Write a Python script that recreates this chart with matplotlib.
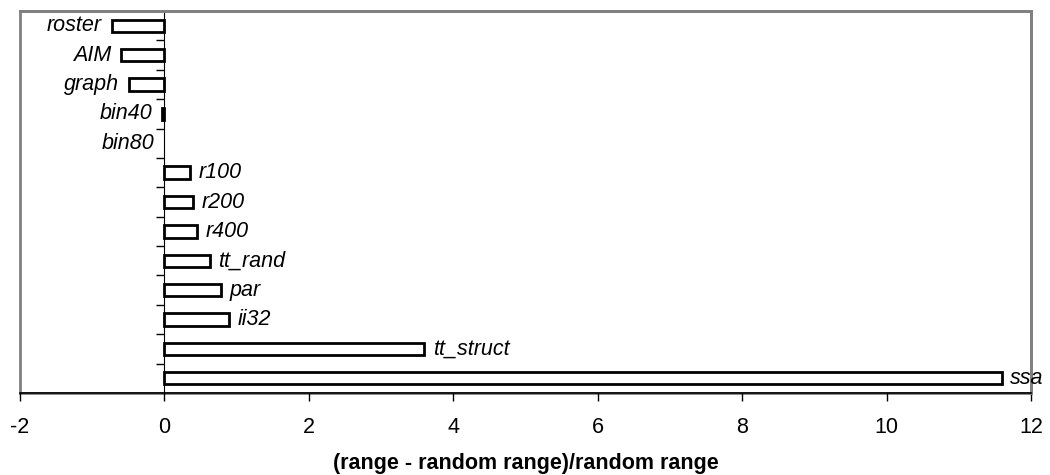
import numpy as np
import matplotlib
matplotlib.use("Agg")
import matplotlib.pyplot as plt
from matplotlib.patches import Rectangle

plt.rcParams['font.family'] = ['Liberation Sans', 'DejaVu Sans']

# Benchmarks, top to bottom
names = ["roster", "AIM", "graph", "bin40", "bin80", "r100", "r200", "r400",
         "tt_rand", "par", "ii32", "tt_struct", "ssa"]
values = [-0.73, -0.60, -0.49, -0.03, 0.0, 0.36, 0.40, 0.45,
          0.63, 0.78, 0.90, 3.60, 11.6]
xticks = [-2, 0, 2, 4, 6, 8, 10, 12]

FS = 15.5

fig = plt.figure(figsize=(10.5, 4.75), dpi=100)
ax = fig.add_axes([20/1050, (475-393)/475, (1031-20)/1050, (393-11)/475])

pos = np.arange(len(names))
# zero-length bars get no outline (as in the original)
lws = [2.0 if v != 0 else 0 for v in values]
ax.barh(pos, values, height=0.42, color="white", edgecolor="black",
        linewidth=lws, zorder=3)

# category labels at the bar ends
for y, v, n in zip(pos, values, names):
    if v <= 0:
        ax.annotate(n, (v, y), xytext=(-7, 0), textcoords="offset points",
                    ha="right", va="center", fontsize=FS, style="italic")
    else:
        ax.annotate(n, (v, y), xytext=(6, 0), textcoords="offset points",
                    ha="left", va="center", fontsize=FS, style="italic")

ax.set_xlim(-2, 12)
ax.set_ylim(len(names) - 0.5, -0.5)
ax.set_xticks(xticks)
ax.set_xticklabels([str(t) for t in xticks], fontsize=FS)
ax.tick_params(axis="x", direction="out", length=6, width=1, pad=11)

# y axis sits at x = 0, ticks between categories
ax.spines["left"].set_position(("data", 0))
ax.set_yticks(np.arange(0.5, len(names) - 0.5, 1.0))
ax.set_yticklabels([])
ax.tick_params(axis="y", direction="out", length=6, width=1)

ax.spines["left"].set_color("black")
ax.spines["bottom"].set_color("black")
ax.spines["bottom"].set_linewidth(1.2)
for s in ["top", "right"]:
    ax.spines[s].set_color("#808080")
    ax.spines[s].set_linewidth(2)
ax.add_patch(Rectangle((0, 0), 1, 1, transform=ax.transAxes, fill=False,
                       edgecolor="#808080", linewidth=2, zorder=0, clip_on=False))

ax.set_xlabel("(range - random range)/random range", fontsize=15.5,
              fontweight="bold", labelpad=11)

fig.savefig("out.png", dpi=100)
